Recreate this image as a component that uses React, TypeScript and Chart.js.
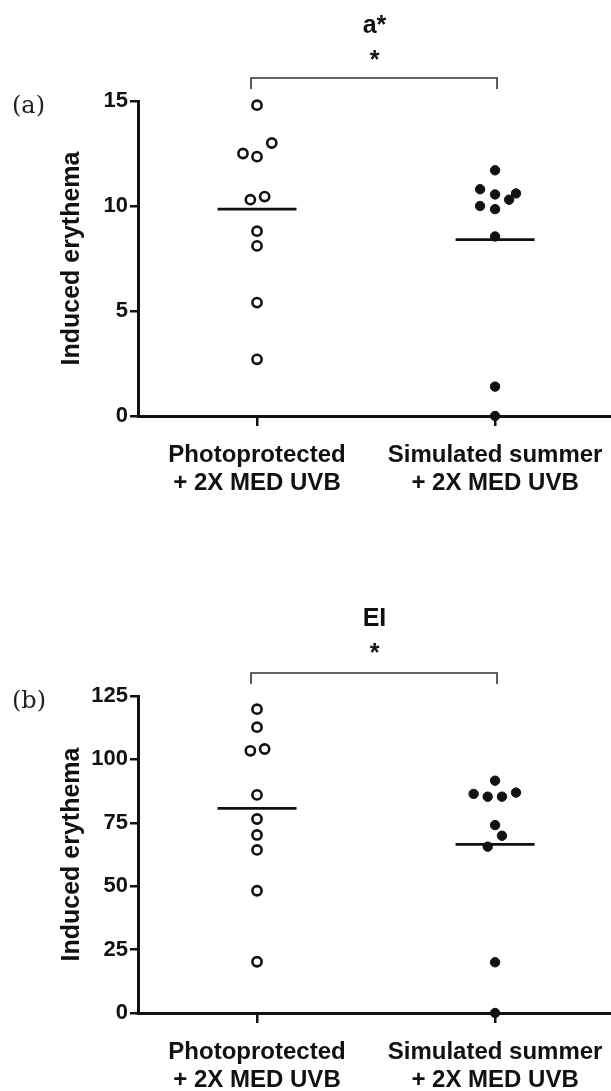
import React, { useEffect, useRef } from "react";
import { Chart, registerables } from "chart.js";

Chart.register(...registerables);

// ---------- data ----------
const categories = [
  ["Photoprotected", "+ 2X MED UVB"],
  ["Simulated summer", "+ 2X MED UVB"],
];
const yTitle = "Induced erythema";
const significance = "*";

// panel (a): a*
const aTitle = "a*";
const aPanelLabel = "(a)";
const aPhoto = [14.8, 13.0, 12.5, 12.35, 10.45, 10.3, 8.8, 8.1, 5.4, 2.7];
const aPhotoSpread = [0, 0.062, -0.059, 0, 0.032, -0.028, 0, 0, 0, 0];
const aSummer = [11.7, 10.8, 10.6, 10.55, 10.3, 10.0, 9.85, 8.55, 1.4, 0];
const aSummerSpread = [0, -0.063, 0.088, 0, 0.059, -0.063, 0, 0, 0, 0];
const aMeans = [9.85, 8.4];
const aTicks = [0, 5, 10, 15];

// panel (b): EI
const eiTitle = "EI";
const eiPanelLabel = "(b)";
const eiPhoto = [119.8, 112.7, 104.1, 103.4, 86.0, 76.5, 70.2, 64.3, 48.2, 20.2];
const eiPhotoSpread = [0, 0, 0.032, -0.028, 0, 0, 0, 0, 0, 0];
const eiSummer = [91.6, 86.9, 86.4, 85.3, 85.3, 74.1, 69.9, 65.6, 20.0, 0];
const eiSummerSpread = [0, 0.088, -0.09, -0.031, 0.029, 0, 0.029, -0.031, 0, 0];
const eiMeans = [80.7, 66.5];
const eiTicks = [0, 25, 50, 75, 100, 125];

// ---------- styles ----------
const INK = "#111";
const SANS = '"Liberation Sans", Arial, sans-serif';
const SERIF = '"DejaVu Serif", serif';
const W = 611;

type PanelData = {
  title: string;
  panelLabel: string;
  photo: number[];
  photoSpread: number[];
  summer: number[];
  summerSpread: number[];
  means: number[];
  ticks: number[];
};

type PanelLayout = {
  top: number;
  height: number;
  xAxisHeight: number;
  titleTop: number;
  titleBottom: number;
  subBottom: number;
};

function makeOverlay(p: PanelData) {
  return {
    id: "overlay",
    beforeDatasetsDraw(chart: any) {
      const { ctx, scales } = chart;
      const x = scales.x;
      const y = scales.y;
      ctx.save();
      ctx.strokeStyle = INK;
      ctx.lineWidth = 2.7;
      p.means.forEach((m, i) => {
        const cx = x.getPixelForValue(i);
        const cy = y.getPixelForValue(m);
        ctx.beginPath();
        ctx.moveTo(cx - 39.5, cy);
        ctx.lineTo(cx + 39.5, cy);
        ctx.stroke();
      });
      ctx.restore();
    },
    afterDraw(chart: any) {
      const { ctx, chartArea, scales } = chart;
      const x = scales.x;
      const x0 = x.getPixelForValue(0) - 6;
      const x1 = x.getPixelForValue(1) + 2;
      const yb = chartArea.top - 23;
      const yl = chartArea.top - 12;
      ctx.save();
      ctx.strokeStyle = "#333";
      ctx.lineWidth = 1.6;
      ctx.beginPath();
      ctx.moveTo(x0, yl);
      ctx.lineTo(x0, yb);
      ctx.lineTo(x1, yb);
      ctx.lineTo(x1, yl);
      ctx.stroke();
      ctx.font = `24px ${SERIF}`;
      ctx.fillStyle = "#222";
      ctx.textAlign = "left";
      ctx.textBaseline = "alphabetic";
      ctx.fillText(p.panelLabel, 12, chartArea.top + 12);
      ctx.restore();
    },
  };
}

function buildConfig(p: PanelData, l: PanelLayout): any {
  const openPts = p.photo.map((v, i) => ({ x: 0 + p.photoSpread[i], y: v }));
  const fillPts = p.summer.map((v, i) => ({ x: 1 + p.summerSpread[i], y: v }));
  const titleFont = { family: SANS, size: 25, weight: "bold", lineHeight: 1.2 };
  return {
    type: "scatter",
    data: {
      datasets: [
        {
          data: openPts,
          pointRadius: 4.6,
          pointBorderWidth: 2.6,
          pointBackgroundColor: "#fff",
          pointBorderColor: INK,
          clip: false,
        },
        {
          data: fillPts,
          pointRadius: 4.7,
          pointBorderWidth: 1,
          pointBackgroundColor: INK,
          pointBorderColor: INK,
          clip: false,
        },
      ],
    },
    options: {
      responsive: false,
      animation: false,
      events: [],
      layout: { autoPadding: false, padding: 0 },
      plugins: {
        legend: { display: false },
        tooltip: { enabled: false },
        title: {
          display: true,
          text: p.title,
          fullSize: false,
          color: INK,
          font: titleFont,
          padding: { top: l.titleTop, bottom: l.titleBottom },
        },
        subtitle: {
          display: true,
          text: significance,
          fullSize: false,
          color: INK,
          font: titleFont,
          padding: { top: 0, bottom: l.subBottom },
        },
      },
      scales: {
        x: {
          type: "linear",
          min: -0.5,
          max: 1.487,
          afterBuildTicks: (s: any) => {
            s.ticks = categories.map((_, i) => ({ value: i }));
          },
          afterFit: (s: any) => {
            s.height = l.xAxisHeight;
            s.paddingLeft = 0;
            s.paddingRight = 0;
          },
          ticks: {
            callback: (_v: any, i: number) => categories[i],
            color: INK,
            font: { family: SANS, size: 24, weight: "bold", lineHeight: 1.19 },
            padding: 15,
            maxRotation: 0,
            autoSkip: false,
          },
          grid: {
            drawOnChartArea: false,
            drawTicks: true,
            tickLength: 10,
            color: INK,
            lineWidth: 2.5,
          },
          border: { display: true, color: INK, width: 3 },
        },
        y: {
          type: "linear",
          min: 0,
          max: p.ticks[p.ticks.length - 1],
          afterBuildTicks: (s: any) => {
            s.ticks = p.ticks.map((v) => ({ value: v }));
          },
          afterFit: (s: any) => {
            s.width = 138;
          },
          ticks: {
            color: INK,
            font: { family: SANS, size: 22, weight: "bold" },
            padding: 2,
          },
          grid: {
            drawOnChartArea: false,
            drawTicks: true,
            tickLength: 8,
            color: INK,
            lineWidth: 2.5,
          },
          border: { display: true, color: INK, width: 3 },
          title: {
            display: true,
            text: yTitle,
            color: INK,
            font: { family: SANS, size: 25, weight: "bold", lineHeight: 1.2 },
            padding: { top: 57, bottom: 0 },
          },
        },
      },
    },
    plugins: [makeOverlay(p)],
  };
}

function Panel({ data, layout }: { data: PanelData; layout: PanelLayout }) {
  const ref = useRef<HTMLCanvasElement>(null);
  useEffect(() => {
    if (!ref.current) return;
    const chart = new Chart(ref.current, buildConfig(data, layout));
    return () => chart.destroy();
  }, []);
  return (
    <div style={{ position: "absolute", left: 0, top: layout.top, width: W, height: layout.height }}>
      <canvas ref={ref} width={W} height={layout.height} style={{ display: "block" }} />
    </div>
  );
}

const panelA: PanelData = {
  title: aTitle,
  panelLabel: aPanelLabel,
  photo: aPhoto,
  photoSpread: aPhotoSpread,
  summer: aSummer,
  summerSpread: aSummerSpread,
  means: aMeans,
  ticks: aTicks,
};
const panelB: PanelData = {
  title: eiTitle,
  panelLabel: eiPanelLabel,
  photo: eiPhoto,
  photoSpread: eiPhotoSpread,
  summer: eiSummer,
  summerSpread: eiSummerSpread,
  means: eiMeans,
  ticks: eiTicks,
};

const layoutA: PanelLayout = { top: 0, height: 500, xAxisHeight: 84, titleTop: 11, titleBottom: 5.3, subBottom: 24.7 };
const layoutB: PanelLayout = { top: 595, height: 496, xAxisHeight: 78, titleTop: 9.3, titleBottom: 5, subBottom: 26.7 };

export default function App() {
  useEffect(() => {
    document.body.style.margin = "0";
  }, []);
  return (
    <div style={{ position: "absolute", left: 0, top: 0, width: W, height: 1091, overflow: "hidden", background: "#fff" }}>
      <Panel data={panelA} layout={layoutA} />
      <Panel data={panelB} layout={layoutB} />
    </div>
  );
}
